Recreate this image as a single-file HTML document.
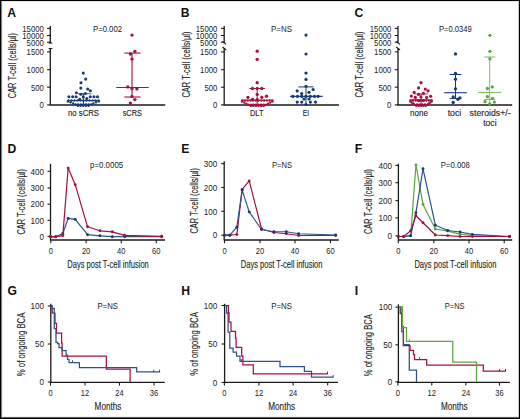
<!DOCTYPE html>
<html><head><meta charset="utf-8"><style>
html,body{margin:0;padding:0;background:#fff;}
svg{display:block;font-family:"Liberation Sans", sans-serif;}
</style></head><body>
<svg width="520" height="419" viewBox="0 0 520 419">
<rect x="0" y="0" width="520" height="419" fill="#fff"/>
<rect x="0" y="1" width="520" height="1" fill="#e4e4e4"/>
<rect x="0" y="416" width="520" height="1" fill="#f0f0f0"/>
<rect x="2" y="0" width="1" height="419" fill="#eeeeee"/>
<rect x="1" y="0" width="1" height="419" fill="#858585"/>
<rect x="518" y="0" width="1" height="419" fill="#c4c4c4"/>
<rect x="0" y="417" width="520" height="1" fill="#5a5a5a"/>
<rect x="0" y="0" width="520" height="1" fill="#000"/>
<rect x="0" y="0" width="1" height="419" fill="#000"/>
<rect x="519" y="0" width="1" height="419" fill="#000"/>
<rect x="0" y="418" width="520" height="1" fill="#000"/>
<text x="7.20" y="16.90" font-size="12.2" font-weight="bold" fill="#111" stroke="#111" stroke-width="0" text-anchor="start">A</text>
<line x1="50.30" y1="26.00" x2="50.30" y2="43.20" stroke="#1a1a1a" stroke-width="1.3"/>
<line x1="50.30" y1="48.30" x2="50.30" y2="105.30" stroke="#1a1a1a" stroke-width="1.3"/>
<line x1="48.70" y1="43.00" x2="52.30" y2="43.00" stroke="#1a1a1a" stroke-width="1.1"/>
<line x1="48.70" y1="48.50" x2="52.30" y2="48.50" stroke="#1a1a1a" stroke-width="1.1"/>
<line x1="47.10" y1="28.40" x2="50.30" y2="28.40" stroke="#1a1a1a" stroke-width="1.1"/>
<line x1="47.10" y1="35.50" x2="50.30" y2="35.50" stroke="#1a1a1a" stroke-width="1.1"/>
<line x1="47.10" y1="42.20" x2="50.30" y2="42.20" stroke="#1a1a1a" stroke-width="1.1"/>
<line x1="47.10" y1="51.90" x2="50.30" y2="51.90" stroke="#1a1a1a" stroke-width="1.1"/>
<line x1="47.10" y1="69.70" x2="50.30" y2="69.70" stroke="#1a1a1a" stroke-width="1.1"/>
<line x1="47.10" y1="87.20" x2="50.30" y2="87.20" stroke="#1a1a1a" stroke-width="1.1"/>
<line x1="47.10" y1="104.90" x2="50.30" y2="104.90" stroke="#1a1a1a" stroke-width="1.1"/>
<text x="22.30" y="32.00" font-size="9.3" fill="#222" stroke="#222" stroke-width="0" text-anchor="start" textLength="21.50" lengthAdjust="spacingAndGlyphs">15000</text>
<text x="22.30" y="38.80" font-size="9.3" fill="#222" stroke="#222" stroke-width="0" text-anchor="start" textLength="21.50" lengthAdjust="spacingAndGlyphs">10000</text>
<text x="26.60" y="45.70" font-size="9.3" fill="#222" stroke="#222" stroke-width="0" text-anchor="start" textLength="17.20" lengthAdjust="spacingAndGlyphs">5000</text>
<text x="26.60" y="55.30" font-size="9.3" fill="#222" stroke="#222" stroke-width="0" text-anchor="start" textLength="17.20" lengthAdjust="spacingAndGlyphs">1500</text>
<text x="26.60" y="73.10" font-size="9.3" fill="#222" stroke="#222" stroke-width="0" text-anchor="start" textLength="17.20" lengthAdjust="spacingAndGlyphs">1000</text>
<text x="30.90" y="90.60" font-size="9.3" fill="#222" stroke="#222" stroke-width="0" text-anchor="start" textLength="12.90" lengthAdjust="spacingAndGlyphs">500</text>
<text x="39.50" y="108.40" font-size="9.3" fill="#222" stroke="#222" stroke-width="0" text-anchor="start" textLength="4.30" lengthAdjust="spacingAndGlyphs">0</text>
<line x1="50.00" y1="105.00" x2="165.20" y2="105.00" stroke="#1a1a1a" stroke-width="1.4"/>
<text x="15.70" y="98.20" font-size="10.6" fill="#222" stroke="#222" stroke-width="0.12" text-anchor="start" textLength="65.20" lengthAdjust="spacingAndGlyphs" transform="rotate(-90 15.70 98.20)">CAR T-cell (cells/µl)</text>
<text x="93.00" y="31.70" font-size="8.4" fill="#222" stroke="#222" stroke-width="0" text-anchor="start" textLength="29.00" lengthAdjust="spacingAndGlyphs">P=0.002</text>
<text x="68.00" y="115.60" font-size="8.8" fill="#222" stroke="#222" stroke-width="0.12" text-anchor="start" textLength="31.00" lengthAdjust="spacingAndGlyphs">no sCRS</text>
<text x="122.70" y="115.60" font-size="8.8" fill="#222" stroke="#222" stroke-width="0.12" text-anchor="start" textLength="19.20" lengthAdjust="spacingAndGlyphs">sCRS</text>
<text x="180.70" y="17.10" font-size="12.2" font-weight="bold" fill="#111" stroke="#111" stroke-width="0" text-anchor="start">B</text>
<line x1="224.20" y1="26.00" x2="224.20" y2="43.20" stroke="#1a1a1a" stroke-width="1.3"/>
<line x1="224.20" y1="48.30" x2="224.20" y2="105.30" stroke="#1a1a1a" stroke-width="1.3"/>
<line x1="222.40" y1="41.40" x2="226.20" y2="44.40" stroke="#1a1a1a" stroke-width="1.2"/>
<line x1="222.40" y1="47.00" x2="226.20" y2="50.00" stroke="#1a1a1a" stroke-width="1.2"/>
<line x1="221.00" y1="28.40" x2="224.20" y2="28.40" stroke="#1a1a1a" stroke-width="1.1"/>
<line x1="221.00" y1="35.50" x2="224.20" y2="35.50" stroke="#1a1a1a" stroke-width="1.1"/>
<line x1="221.00" y1="42.20" x2="224.20" y2="42.20" stroke="#1a1a1a" stroke-width="1.1"/>
<line x1="221.00" y1="51.90" x2="224.20" y2="51.90" stroke="#1a1a1a" stroke-width="1.1"/>
<line x1="221.00" y1="69.70" x2="224.20" y2="69.70" stroke="#1a1a1a" stroke-width="1.1"/>
<line x1="221.00" y1="87.20" x2="224.20" y2="87.20" stroke="#1a1a1a" stroke-width="1.1"/>
<line x1="221.00" y1="104.90" x2="224.20" y2="104.90" stroke="#1a1a1a" stroke-width="1.1"/>
<text x="195.80" y="32.00" font-size="9.3" fill="#222" stroke="#222" stroke-width="0" text-anchor="start" textLength="21.50" lengthAdjust="spacingAndGlyphs">15000</text>
<text x="195.80" y="38.80" font-size="9.3" fill="#222" stroke="#222" stroke-width="0" text-anchor="start" textLength="21.50" lengthAdjust="spacingAndGlyphs">10000</text>
<text x="200.10" y="45.70" font-size="9.3" fill="#222" stroke="#222" stroke-width="0" text-anchor="start" textLength="17.20" lengthAdjust="spacingAndGlyphs">5000</text>
<text x="200.10" y="55.30" font-size="9.3" fill="#222" stroke="#222" stroke-width="0" text-anchor="start" textLength="17.20" lengthAdjust="spacingAndGlyphs">1500</text>
<text x="200.10" y="73.10" font-size="9.3" fill="#222" stroke="#222" stroke-width="0" text-anchor="start" textLength="17.20" lengthAdjust="spacingAndGlyphs">1000</text>
<text x="204.40" y="90.60" font-size="9.3" fill="#222" stroke="#222" stroke-width="0" text-anchor="start" textLength="12.90" lengthAdjust="spacingAndGlyphs">500</text>
<text x="213.00" y="108.40" font-size="9.3" fill="#222" stroke="#222" stroke-width="0" text-anchor="start" textLength="4.30" lengthAdjust="spacingAndGlyphs">0</text>
<line x1="223.60" y1="105.00" x2="338.90" y2="105.00" stroke="#1a1a1a" stroke-width="1.4"/>
<text x="189.60" y="97.60" font-size="10.6" fill="#222" stroke="#222" stroke-width="0.12" text-anchor="start" textLength="66.00" lengthAdjust="spacingAndGlyphs" transform="rotate(-90 189.60 97.60)">CAR T-cell (cells/µl)</text>
<text x="271.00" y="31.70" font-size="8.4" fill="#222" stroke="#222" stroke-width="0" text-anchor="start" textLength="21.00" lengthAdjust="spacingAndGlyphs">P=NS</text>
<text x="250.00" y="115.60" font-size="8.8" fill="#222" stroke="#222" stroke-width="0.12" text-anchor="start" textLength="13.40" lengthAdjust="spacingAndGlyphs">DLT</text>
<text x="302.70" y="115.60" font-size="8.8" fill="#222" stroke="#222" stroke-width="0.12" text-anchor="start" textLength="6.30" lengthAdjust="spacingAndGlyphs">EI</text>
<text x="354.60" y="17.00" font-size="12.2" font-weight="bold" fill="#111" stroke="#111" stroke-width="0" text-anchor="start">C</text>
<line x1="398.00" y1="26.00" x2="398.00" y2="43.20" stroke="#1a1a1a" stroke-width="1.3"/>
<line x1="398.00" y1="48.30" x2="398.00" y2="105.30" stroke="#1a1a1a" stroke-width="1.3"/>
<line x1="396.20" y1="41.40" x2="400.00" y2="44.40" stroke="#1a1a1a" stroke-width="1.2"/>
<line x1="396.20" y1="47.00" x2="400.00" y2="50.00" stroke="#1a1a1a" stroke-width="1.2"/>
<line x1="394.80" y1="28.40" x2="398.00" y2="28.40" stroke="#1a1a1a" stroke-width="1.1"/>
<line x1="394.80" y1="35.50" x2="398.00" y2="35.50" stroke="#1a1a1a" stroke-width="1.1"/>
<line x1="394.80" y1="42.20" x2="398.00" y2="42.20" stroke="#1a1a1a" stroke-width="1.1"/>
<line x1="394.80" y1="51.90" x2="398.00" y2="51.90" stroke="#1a1a1a" stroke-width="1.1"/>
<line x1="394.80" y1="69.70" x2="398.00" y2="69.70" stroke="#1a1a1a" stroke-width="1.1"/>
<line x1="394.80" y1="87.20" x2="398.00" y2="87.20" stroke="#1a1a1a" stroke-width="1.1"/>
<line x1="394.80" y1="104.90" x2="398.00" y2="104.90" stroke="#1a1a1a" stroke-width="1.1"/>
<text x="369.80" y="32.00" font-size="9.3" fill="#222" stroke="#222" stroke-width="0" text-anchor="start" textLength="21.50" lengthAdjust="spacingAndGlyphs">15000</text>
<text x="369.80" y="38.80" font-size="9.3" fill="#222" stroke="#222" stroke-width="0" text-anchor="start" textLength="21.50" lengthAdjust="spacingAndGlyphs">10000</text>
<text x="374.10" y="45.70" font-size="9.3" fill="#222" stroke="#222" stroke-width="0" text-anchor="start" textLength="17.20" lengthAdjust="spacingAndGlyphs">5000</text>
<text x="374.10" y="55.30" font-size="9.3" fill="#222" stroke="#222" stroke-width="0" text-anchor="start" textLength="17.20" lengthAdjust="spacingAndGlyphs">1500</text>
<text x="374.10" y="73.10" font-size="9.3" fill="#222" stroke="#222" stroke-width="0" text-anchor="start" textLength="17.20" lengthAdjust="spacingAndGlyphs">1000</text>
<text x="378.40" y="90.60" font-size="9.3" fill="#222" stroke="#222" stroke-width="0" text-anchor="start" textLength="12.90" lengthAdjust="spacingAndGlyphs">500</text>
<text x="387.00" y="108.40" font-size="9.3" fill="#222" stroke="#222" stroke-width="0" text-anchor="start" textLength="4.30" lengthAdjust="spacingAndGlyphs">0</text>
<line x1="397.50" y1="105.00" x2="512.20" y2="105.00" stroke="#1a1a1a" stroke-width="1.4"/>
<text x="363.10" y="97.60" font-size="10.6" fill="#222" stroke="#222" stroke-width="0.12" text-anchor="start" textLength="66.00" lengthAdjust="spacingAndGlyphs" transform="rotate(-90 363.10 97.60)">CAR T-cell (cells/µl)</text>
<text x="439.00" y="31.70" font-size="8.4" fill="#222" stroke="#222" stroke-width="0" text-anchor="start" textLength="32.80" lengthAdjust="spacingAndGlyphs">P=0.0349</text>
<text x="410.00" y="115.60" font-size="8.8" fill="#222" stroke="#222" stroke-width="0.12" text-anchor="start" textLength="18.00" lengthAdjust="spacingAndGlyphs">none</text>
<text x="447.70" y="115.60" font-size="8.8" fill="#222" stroke="#222" stroke-width="0.12" text-anchor="start" textLength="13.60" lengthAdjust="spacingAndGlyphs">toci</text>
<text x="469.60" y="115.60" font-size="8.8" fill="#222" stroke="#222" stroke-width="0.12" text-anchor="start" textLength="41.00" lengthAdjust="spacingAndGlyphs">steroids+/-</text>
<text x="483.20" y="126.00" font-size="8.8" fill="#222" stroke="#222" stroke-width="0.12" text-anchor="start" textLength="13.40" lengthAdjust="spacingAndGlyphs">toci</text>
<circle cx="83.30" cy="73.10" r="1.55" fill="#173a78"/>
<circle cx="85.70" cy="79.10" r="1.55" fill="#173a78"/>
<circle cx="81.00" cy="82.70" r="1.55" fill="#173a78"/>
<circle cx="80.80" cy="88.10" r="1.55" fill="#173a78"/>
<circle cx="87.70" cy="89.00" r="1.55" fill="#173a78"/>
<circle cx="90.30" cy="90.80" r="1.55" fill="#173a78"/>
<circle cx="76.40" cy="92.70" r="1.55" fill="#173a78"/>
<circle cx="80.80" cy="94.30" r="1.55" fill="#173a78"/>
<circle cx="85.40" cy="93.50" r="1.55" fill="#173a78"/>
<circle cx="68.90" cy="96.70" r="1.55" fill="#173a78"/>
<circle cx="72.70" cy="96.70" r="1.55" fill="#173a78"/>
<circle cx="76.10" cy="96.70" r="1.55" fill="#173a78"/>
<circle cx="90.30" cy="96.70" r="1.55" fill="#173a78"/>
<circle cx="94.00" cy="96.70" r="1.55" fill="#173a78"/>
<circle cx="97.50" cy="96.70" r="1.55" fill="#173a78"/>
<circle cx="79.70" cy="99.30" r="1.55" fill="#173a78"/>
<circle cx="86.80" cy="98.50" r="1.55" fill="#173a78"/>
<circle cx="83.30" cy="96.90" r="1.55" fill="#173a78"/>
<line x1="78.00" y1="93.70" x2="91.50" y2="93.70" stroke="#173a78" stroke-width="0.8"/>
<line x1="83.40" y1="93.70" x2="83.40" y2="105.00" stroke="#173a78" stroke-width="1"/>
<circle cx="68.50" cy="100.40" r="1.1" fill="#173a78"/>
<circle cx="71.50" cy="100.40" r="1.1" fill="#173a78"/>
<circle cx="74.50" cy="100.40" r="1.1" fill="#173a78"/>
<circle cx="77.50" cy="100.40" r="1.1" fill="#173a78"/>
<circle cx="80.50" cy="100.40" r="1.1" fill="#173a78"/>
<circle cx="83.50" cy="100.40" r="1.1" fill="#173a78"/>
<circle cx="86.50" cy="100.40" r="1.1" fill="#173a78"/>
<circle cx="89.50" cy="100.40" r="1.1" fill="#173a78"/>
<circle cx="92.50" cy="100.40" r="1.1" fill="#173a78"/>
<circle cx="95.50" cy="100.40" r="1.1" fill="#173a78"/>
<circle cx="98.50" cy="100.40" r="1.1" fill="#173a78"/>
<line x1="67.20" y1="100.60" x2="99.70" y2="100.60" stroke="#173a78" stroke-width="1.3"/>
<circle cx="67.80" cy="101.40" r="1.2" fill="#173a78"/>
<circle cx="98.80" cy="101.40" r="1.2" fill="#173a78"/>
<circle cx="70.60" cy="102.30" r="1.2" fill="#173a78"/>
<circle cx="96.00" cy="102.30" r="1.2" fill="#173a78"/>
<circle cx="73.20" cy="103.40" r="1.2" fill="#173a78"/>
<circle cx="93.40" cy="103.40" r="1.2" fill="#173a78"/>
<circle cx="75.60" cy="104.40" r="1.25" fill="#173a78"/>
<circle cx="78.20" cy="104.40" r="1.25" fill="#173a78"/>
<circle cx="80.80" cy="104.40" r="1.25" fill="#173a78"/>
<circle cx="83.40" cy="104.40" r="1.25" fill="#173a78"/>
<circle cx="86.00" cy="104.40" r="1.25" fill="#173a78"/>
<circle cx="88.60" cy="104.40" r="1.25" fill="#173a78"/>
<circle cx="91.20" cy="104.40" r="1.25" fill="#173a78"/>
<circle cx="78.00" cy="105.70" r="1.2" fill="#173a78"/>
<circle cx="80.65" cy="105.70" r="1.2" fill="#173a78"/>
<circle cx="83.30" cy="105.70" r="1.2" fill="#173a78"/>
<circle cx="85.95" cy="105.70" r="1.2" fill="#173a78"/>
<circle cx="88.60" cy="105.70" r="1.2" fill="#173a78"/>
<line x1="116.20" y1="87.50" x2="148.70" y2="87.50" stroke="#a8103a" stroke-width="1.1"/>
<line x1="124.30" y1="53.10" x2="140.60" y2="53.10" stroke="#a8103a" stroke-width="1.1"/>
<line x1="124.30" y1="97.00" x2="140.60" y2="97.00" stroke="#a8103a" stroke-width="1.1"/>
<line x1="132.00" y1="53.10" x2="132.00" y2="97.00" stroke="#a8103a" stroke-width="1.1"/>
<circle cx="132.00" cy="35.10" r="1.7" fill="#a8103a"/>
<circle cx="134.90" cy="51.40" r="1.7" fill="#a8103a"/>
<circle cx="130.40" cy="54.00" r="1.7" fill="#a8103a"/>
<circle cx="132.00" cy="59.10" r="1.7" fill="#a8103a"/>
<circle cx="127.80" cy="86.90" r="1.7" fill="#a8103a"/>
<circle cx="132.00" cy="88.50" r="1.7" fill="#a8103a"/>
<circle cx="136.90" cy="88.90" r="1.7" fill="#a8103a"/>
<circle cx="132.00" cy="96.40" r="1.7" fill="#a8103a"/>
<circle cx="134.90" cy="99.60" r="1.7" fill="#a8103a"/>
<circle cx="130.40" cy="103.10" r="1.7" fill="#a8103a"/>
<circle cx="257.20" cy="51.20" r="1.65" fill="#a8103a"/>
<circle cx="257.20" cy="59.30" r="1.65" fill="#a8103a"/>
<circle cx="257.20" cy="82.70" r="1.65" fill="#a8103a"/>
<circle cx="252.50" cy="88.50" r="1.65" fill="#a8103a"/>
<circle cx="257.20" cy="88.50" r="1.65" fill="#a8103a"/>
<circle cx="261.80" cy="88.50" r="1.65" fill="#a8103a"/>
<circle cx="257.20" cy="94.40" r="1.65" fill="#a8103a"/>
<circle cx="247.90" cy="97.30" r="1.65" fill="#a8103a"/>
<circle cx="252.50" cy="99.30" r="1.65" fill="#a8103a"/>
<circle cx="261.80" cy="97.30" r="1.65" fill="#a8103a"/>
<circle cx="266.50" cy="96.20" r="1.65" fill="#a8103a"/>
<circle cx="257.20" cy="99.70" r="1.65" fill="#a8103a"/>
<circle cx="242.20" cy="100.60" r="1.2" fill="#a8103a"/>
<circle cx="244.93" cy="100.60" r="1.2" fill="#a8103a"/>
<circle cx="247.65" cy="100.60" r="1.2" fill="#a8103a"/>
<circle cx="250.38" cy="100.60" r="1.2" fill="#a8103a"/>
<circle cx="253.11" cy="100.60" r="1.2" fill="#a8103a"/>
<circle cx="255.84" cy="100.60" r="1.2" fill="#a8103a"/>
<circle cx="258.56" cy="100.60" r="1.2" fill="#a8103a"/>
<circle cx="261.29" cy="100.60" r="1.2" fill="#a8103a"/>
<circle cx="264.02" cy="100.60" r="1.2" fill="#a8103a"/>
<circle cx="266.75" cy="100.60" r="1.2" fill="#a8103a"/>
<circle cx="269.47" cy="100.60" r="1.2" fill="#a8103a"/>
<circle cx="272.20" cy="100.60" r="1.2" fill="#a8103a"/>
<circle cx="242.00" cy="101.50" r="1.2" fill="#a8103a"/>
<circle cx="272.40" cy="101.50" r="1.2" fill="#a8103a"/>
<circle cx="244.20" cy="102.60" r="1.2" fill="#a8103a"/>
<circle cx="270.20" cy="102.60" r="1.2" fill="#a8103a"/>
<circle cx="246.20" cy="103.60" r="1.2" fill="#a8103a"/>
<circle cx="268.20" cy="103.60" r="1.2" fill="#a8103a"/>
<circle cx="248.20" cy="104.60" r="1.2" fill="#a8103a"/>
<circle cx="250.77" cy="104.60" r="1.2" fill="#a8103a"/>
<circle cx="253.34" cy="104.60" r="1.2" fill="#a8103a"/>
<circle cx="255.91" cy="104.60" r="1.2" fill="#a8103a"/>
<circle cx="258.49" cy="104.60" r="1.2" fill="#a8103a"/>
<circle cx="261.06" cy="104.60" r="1.2" fill="#a8103a"/>
<circle cx="263.63" cy="104.60" r="1.2" fill="#a8103a"/>
<circle cx="266.20" cy="104.60" r="1.2" fill="#a8103a"/>
<circle cx="250.70" cy="105.90" r="1.2" fill="#a8103a"/>
<circle cx="253.30" cy="105.90" r="1.2" fill="#a8103a"/>
<circle cx="255.90" cy="105.90" r="1.2" fill="#a8103a"/>
<circle cx="258.50" cy="105.90" r="1.2" fill="#a8103a"/>
<circle cx="261.10" cy="105.90" r="1.2" fill="#a8103a"/>
<circle cx="263.70" cy="105.90" r="1.2" fill="#a8103a"/>
<line x1="249.40" y1="88.50" x2="264.90" y2="88.50" stroke="#a8103a" stroke-width="1"/>
<line x1="241.00" y1="100.10" x2="273.50" y2="100.10" stroke="#a8103a" stroke-width="1"/>
<line x1="257.20" y1="88.50" x2="257.20" y2="104.00" stroke="#a8103a" stroke-width="1"/>
<circle cx="306.00" cy="35.10" r="1.6" fill="#173a78"/>
<circle cx="306.00" cy="54.00" r="1.6" fill="#173a78"/>
<circle cx="306.00" cy="73.10" r="1.6" fill="#173a78"/>
<circle cx="306.00" cy="79.40" r="1.6" fill="#173a78"/>
<circle cx="306.00" cy="86.30" r="1.6" fill="#173a78"/>
<circle cx="297.20" cy="90.90" r="1.6" fill="#173a78"/>
<circle cx="313.10" cy="89.50" r="1.6" fill="#173a78"/>
<circle cx="301.70" cy="93.60" r="1.6" fill="#173a78"/>
<circle cx="309.00" cy="92.30" r="1.6" fill="#173a78"/>
<circle cx="292.80" cy="96.40" r="1.6" fill="#173a78"/>
<circle cx="297.50" cy="96.40" r="1.6" fill="#173a78"/>
<circle cx="301.70" cy="96.40" r="1.6" fill="#173a78"/>
<circle cx="306.00" cy="96.40" r="1.6" fill="#173a78"/>
<circle cx="310.40" cy="96.40" r="1.6" fill="#173a78"/>
<circle cx="314.50" cy="96.40" r="1.6" fill="#173a78"/>
<circle cx="318.10" cy="96.40" r="1.6" fill="#173a78"/>
<circle cx="304.00" cy="99.00" r="1.6" fill="#173a78"/>
<circle cx="309.00" cy="99.00" r="1.6" fill="#173a78"/>
<circle cx="297.20" cy="102.10" r="1.6" fill="#173a78"/>
<circle cx="301.70" cy="102.10" r="1.6" fill="#173a78"/>
<circle cx="310.40" cy="102.10" r="1.6" fill="#173a78"/>
<circle cx="315.50" cy="102.10" r="1.6" fill="#173a78"/>
<circle cx="306.00" cy="104.50" r="1.6" fill="#173a78"/>
<line x1="298.30" y1="86.90" x2="313.50" y2="86.90" stroke="#173a78" stroke-width="1"/>
<line x1="290.10" y1="96.40" x2="322.60" y2="96.40" stroke="#173a78" stroke-width="1.1"/>
<line x1="306.00" y1="86.90" x2="306.00" y2="104.00" stroke="#173a78" stroke-width="1"/>
<circle cx="421.00" cy="82.70" r="1.6" fill="#a8103a"/>
<circle cx="418.60" cy="87.90" r="1.6" fill="#a8103a"/>
<circle cx="425.30" cy="89.10" r="1.6" fill="#a8103a"/>
<circle cx="428.00" cy="90.80" r="1.6" fill="#a8103a"/>
<circle cx="414.10" cy="92.40" r="1.6" fill="#a8103a"/>
<circle cx="418.60" cy="94.40" r="1.6" fill="#a8103a"/>
<circle cx="423.40" cy="93.40" r="1.6" fill="#a8103a"/>
<circle cx="411.30" cy="96.10" r="1.6" fill="#a8103a"/>
<circle cx="415.30" cy="97.40" r="1.6" fill="#a8103a"/>
<circle cx="426.70" cy="97.40" r="1.6" fill="#a8103a"/>
<circle cx="430.60" cy="96.30" r="1.6" fill="#a8103a"/>
<circle cx="421.00" cy="97.00" r="1.6" fill="#a8103a"/>
<circle cx="418.60" cy="100.60" r="1.6" fill="#a8103a"/>
<circle cx="423.40" cy="100.60" r="1.6" fill="#a8103a"/>
<circle cx="410.50" cy="100.50" r="1.2" fill="#a8103a"/>
<circle cx="413.12" cy="100.50" r="1.2" fill="#a8103a"/>
<circle cx="415.75" cy="100.50" r="1.2" fill="#a8103a"/>
<circle cx="418.38" cy="100.50" r="1.2" fill="#a8103a"/>
<circle cx="421.00" cy="100.50" r="1.2" fill="#a8103a"/>
<circle cx="423.62" cy="100.50" r="1.2" fill="#a8103a"/>
<circle cx="426.25" cy="100.50" r="1.2" fill="#a8103a"/>
<circle cx="428.88" cy="100.50" r="1.2" fill="#a8103a"/>
<circle cx="431.50" cy="100.50" r="1.2" fill="#a8103a"/>
<circle cx="410.30" cy="101.40" r="1.2" fill="#a8103a"/>
<circle cx="431.70" cy="101.40" r="1.2" fill="#a8103a"/>
<circle cx="411.66" cy="102.50" r="1.2" fill="#a8103a"/>
<circle cx="430.34" cy="102.50" r="1.2" fill="#a8103a"/>
<circle cx="413.09" cy="103.50" r="1.2" fill="#a8103a"/>
<circle cx="428.91" cy="103.50" r="1.2" fill="#a8103a"/>
<circle cx="414.53" cy="104.50" r="1.2" fill="#a8103a"/>
<circle cx="417.12" cy="104.50" r="1.2" fill="#a8103a"/>
<circle cx="419.71" cy="104.50" r="1.2" fill="#a8103a"/>
<circle cx="422.29" cy="104.50" r="1.2" fill="#a8103a"/>
<circle cx="424.88" cy="104.50" r="1.2" fill="#a8103a"/>
<circle cx="427.47" cy="104.50" r="1.2" fill="#a8103a"/>
<circle cx="416.33" cy="105.80" r="1.2" fill="#a8103a"/>
<circle cx="418.66" cy="105.80" r="1.2" fill="#a8103a"/>
<circle cx="421.00" cy="105.80" r="1.2" fill="#a8103a"/>
<circle cx="423.34" cy="105.80" r="1.2" fill="#a8103a"/>
<circle cx="425.67" cy="105.80" r="1.2" fill="#a8103a"/>
<line x1="409.60" y1="99.90" x2="432.50" y2="99.90" stroke="#a8103a" stroke-width="1"/>
<line x1="414.00" y1="93.90" x2="428.00" y2="93.90" stroke="#a8103a" stroke-width="0.8"/>
<line x1="421.00" y1="93.90" x2="421.00" y2="104.50" stroke="#a8103a" stroke-width="1"/>
<line x1="449.60" y1="74.50" x2="461.30" y2="74.50" stroke="#173a78" stroke-width="1"/>
<line x1="444.20" y1="92.70" x2="466.90" y2="92.70" stroke="#173a78" stroke-width="1.1"/>
<line x1="449.60" y1="98.60" x2="461.30" y2="98.60" stroke="#173a78" stroke-width="1"/>
<line x1="455.50" y1="74.50" x2="455.50" y2="98.60" stroke="#173a78" stroke-width="1"/>
<circle cx="455.50" cy="53.90" r="1.65" fill="#173a78"/>
<circle cx="455.50" cy="73.30" r="1.65" fill="#173a78"/>
<circle cx="455.50" cy="79.20" r="1.65" fill="#173a78"/>
<circle cx="455.50" cy="88.80" r="1.65" fill="#173a78"/>
<circle cx="453.20" cy="97.00" r="1.65" fill="#173a78"/>
<circle cx="459.90" cy="97.80" r="1.65" fill="#173a78"/>
<circle cx="457.90" cy="99.30" r="1.65" fill="#173a78"/>
<circle cx="453.20" cy="102.50" r="1.65" fill="#173a78"/>
<line x1="484.30" y1="57.00" x2="495.40" y2="57.00" stroke="#7cbf5a" stroke-width="1"/>
<line x1="478.00" y1="92.40" x2="501.30" y2="92.40" stroke="#7cbf5a" stroke-width="1.1"/>
<line x1="484.30" y1="99.50" x2="495.40" y2="99.50" stroke="#7cbf5a" stroke-width="1"/>
<line x1="489.70" y1="57.00" x2="489.70" y2="103.00" stroke="#7cbf5a" stroke-width="1"/>
<circle cx="489.90" cy="35.30" r="1.65" fill="#58a83a"/>
<circle cx="489.90" cy="51.30" r="1.65" fill="#58a83a"/>
<circle cx="489.90" cy="58.80" r="1.65" fill="#58a83a"/>
<circle cx="487.40" cy="88.50" r="1.65" fill="#58a83a"/>
<circle cx="492.30" cy="86.90" r="1.65" fill="#58a83a"/>
<circle cx="487.40" cy="96.70" r="1.65" fill="#58a83a"/>
<circle cx="492.50" cy="98.30" r="1.65" fill="#58a83a"/>
<circle cx="485.00" cy="101.70" r="1.65" fill="#58a83a"/>
<circle cx="494.30" cy="102.10" r="1.65" fill="#58a83a"/>
<circle cx="489.70" cy="104.00" r="1.65" fill="#58a83a"/>
<text x="7.60" y="152.80" font-size="12.2" font-weight="bold" fill="#111" stroke="#111" stroke-width="0" text-anchor="start">D</text>
<line x1="50.50" y1="163.80" x2="50.50" y2="240.60" stroke="#1a1a1a" stroke-width="1.3"/>
<line x1="47.50" y1="171.30" x2="50.50" y2="171.30" stroke="#1a1a1a" stroke-width="1.1"/>
<text x="30.50" y="174.50" font-size="9.1" fill="#222" stroke="#222" stroke-width="0" text-anchor="start" textLength="13.50" lengthAdjust="spacingAndGlyphs">400</text>
<line x1="47.50" y1="188.00" x2="50.50" y2="188.00" stroke="#1a1a1a" stroke-width="1.1"/>
<text x="30.50" y="191.20" font-size="9.1" fill="#222" stroke="#222" stroke-width="0" text-anchor="start" textLength="13.50" lengthAdjust="spacingAndGlyphs">300</text>
<line x1="47.50" y1="204.20" x2="50.50" y2="204.20" stroke="#1a1a1a" stroke-width="1.1"/>
<text x="30.50" y="207.40" font-size="9.1" fill="#222" stroke="#222" stroke-width="0" text-anchor="start" textLength="13.50" lengthAdjust="spacingAndGlyphs">200</text>
<line x1="47.50" y1="220.30" x2="50.50" y2="220.30" stroke="#1a1a1a" stroke-width="1.1"/>
<text x="30.50" y="223.50" font-size="9.1" fill="#222" stroke="#222" stroke-width="0" text-anchor="start" textLength="13.50" lengthAdjust="spacingAndGlyphs">100</text>
<line x1="47.50" y1="236.40" x2="50.50" y2="236.40" stroke="#1a1a1a" stroke-width="1.1"/>
<text x="39.50" y="239.60" font-size="9.1" fill="#222" stroke="#222" stroke-width="0" text-anchor="start" textLength="4.50" lengthAdjust="spacingAndGlyphs">0</text>
<line x1="50.50" y1="240.00" x2="165.00" y2="240.00" stroke="#1a1a1a" stroke-width="1.3"/>
<line x1="50.80" y1="240.00" x2="50.80" y2="243.20" stroke="#1a1a1a" stroke-width="1.1"/>
<text x="48.70" y="253.70" font-size="9.1" fill="#222" stroke="#222" stroke-width="0" text-anchor="start" textLength="4.20" lengthAdjust="spacingAndGlyphs">0</text>
<line x1="86.10" y1="240.00" x2="86.10" y2="243.20" stroke="#1a1a1a" stroke-width="1.1"/>
<text x="81.90" y="253.70" font-size="9.1" fill="#222" stroke="#222" stroke-width="0" text-anchor="start" textLength="8.40" lengthAdjust="spacingAndGlyphs">20</text>
<line x1="121.20" y1="240.00" x2="121.20" y2="243.20" stroke="#1a1a1a" stroke-width="1.1"/>
<text x="117.00" y="253.70" font-size="9.1" fill="#222" stroke="#222" stroke-width="0" text-anchor="start" textLength="8.40" lengthAdjust="spacingAndGlyphs">40</text>
<line x1="156.30" y1="240.00" x2="156.30" y2="243.20" stroke="#1a1a1a" stroke-width="1.1"/>
<text x="152.10" y="253.70" font-size="9.1" fill="#222" stroke="#222" stroke-width="0" text-anchor="start" textLength="8.40" lengthAdjust="spacingAndGlyphs">60</text>
<text x="24.60" y="234.60" font-size="10.6" fill="#222" stroke="#222" stroke-width="0.12" text-anchor="start" textLength="65.50" lengthAdjust="spacingAndGlyphs" transform="rotate(-90 24.60 234.60)">CAR T-cell (cells/µl)</text>
<text x="90.00" y="167.70" font-size="8.4" fill="#222" stroke="#222" stroke-width="0" text-anchor="start" textLength="33.20" lengthAdjust="spacingAndGlyphs">p=0.0005</text>
<text x="67.30" y="267.50" font-size="10.8" fill="#222" stroke="#222" stroke-width="0.12" text-anchor="start" textLength="81.50" lengthAdjust="spacingAndGlyphs">Days post T-cell infusion</text>
<polyline points="50.50,236.80 55.80,236.80 62.85,233.50 68.15,218.40 75.21,219.40 87.56,234.70 99.92,235.80 112.28,236.70 124.63,236.70 161.69,236.70" fill="none" stroke="#2f5190" stroke-width="1.2" stroke-linejoin="round"/>
<circle cx="50.50" cy="236.80" r="1.45" fill="#173a78"/>
<circle cx="55.80" cy="236.80" r="1.45" fill="#173a78"/>
<circle cx="62.85" cy="233.50" r="1.45" fill="#173a78"/>
<circle cx="68.15" cy="218.40" r="1.45" fill="#173a78"/>
<circle cx="75.21" cy="219.40" r="1.45" fill="#173a78"/>
<circle cx="87.56" cy="234.70" r="1.45" fill="#173a78"/>
<circle cx="99.92" cy="235.80" r="1.45" fill="#173a78"/>
<circle cx="112.28" cy="236.70" r="1.45" fill="#173a78"/>
<circle cx="124.63" cy="236.70" r="1.45" fill="#173a78"/>
<circle cx="161.69" cy="236.70" r="1.45" fill="#173a78"/>
<polyline points="50.50,236.60 55.80,236.60 62.85,235.60 68.15,168.10 75.21,184.70 87.56,226.80 99.92,230.80 112.28,231.80 124.63,235.30 161.69,236.30" fill="none" stroke="#a8103a" stroke-width="1.2" stroke-linejoin="round"/>
<circle cx="50.50" cy="236.60" r="1.45" fill="#a8103a"/>
<circle cx="55.80" cy="236.60" r="1.45" fill="#a8103a"/>
<circle cx="62.85" cy="235.60" r="1.45" fill="#a8103a"/>
<circle cx="68.15" cy="168.10" r="1.45" fill="#a8103a"/>
<circle cx="75.21" cy="184.70" r="1.45" fill="#a8103a"/>
<circle cx="87.56" cy="226.80" r="1.45" fill="#a8103a"/>
<circle cx="99.92" cy="230.80" r="1.45" fill="#a8103a"/>
<circle cx="112.28" cy="231.80" r="1.45" fill="#a8103a"/>
<circle cx="124.63" cy="235.30" r="1.45" fill="#a8103a"/>
<circle cx="161.69" cy="236.30" r="1.45" fill="#a8103a"/>
<text x="181.20" y="153.20" font-size="12.2" font-weight="bold" fill="#111" stroke="#111" stroke-width="0" text-anchor="start">E</text>
<line x1="224.20" y1="161.30" x2="224.20" y2="240.60" stroke="#1a1a1a" stroke-width="1.3"/>
<line x1="221.20" y1="163.60" x2="224.20" y2="163.60" stroke="#1a1a1a" stroke-width="1.1"/>
<text x="203.80" y="166.80" font-size="9.1" fill="#222" stroke="#222" stroke-width="0" text-anchor="start" textLength="13.50" lengthAdjust="spacingAndGlyphs">300</text>
<line x1="221.20" y1="187.50" x2="224.20" y2="187.50" stroke="#1a1a1a" stroke-width="1.1"/>
<text x="203.80" y="190.70" font-size="9.1" fill="#222" stroke="#222" stroke-width="0" text-anchor="start" textLength="13.50" lengthAdjust="spacingAndGlyphs">200</text>
<line x1="221.20" y1="211.30" x2="224.20" y2="211.30" stroke="#1a1a1a" stroke-width="1.1"/>
<text x="203.80" y="214.50" font-size="9.1" fill="#222" stroke="#222" stroke-width="0" text-anchor="start" textLength="13.50" lengthAdjust="spacingAndGlyphs">100</text>
<line x1="221.20" y1="235.20" x2="224.20" y2="235.20" stroke="#1a1a1a" stroke-width="1.1"/>
<text x="212.80" y="238.40" font-size="9.1" fill="#222" stroke="#222" stroke-width="0" text-anchor="start" textLength="4.50" lengthAdjust="spacingAndGlyphs">0</text>
<line x1="224.20" y1="240.00" x2="338.80" y2="240.00" stroke="#1a1a1a" stroke-width="1.3"/>
<line x1="224.50" y1="240.00" x2="224.50" y2="243.20" stroke="#1a1a1a" stroke-width="1.1"/>
<text x="222.40" y="253.70" font-size="9.1" fill="#222" stroke="#222" stroke-width="0" text-anchor="start" textLength="4.20" lengthAdjust="spacingAndGlyphs">0</text>
<line x1="260.00" y1="240.00" x2="260.00" y2="243.20" stroke="#1a1a1a" stroke-width="1.1"/>
<text x="255.80" y="253.70" font-size="9.1" fill="#222" stroke="#222" stroke-width="0" text-anchor="start" textLength="8.40" lengthAdjust="spacingAndGlyphs">20</text>
<line x1="295.00" y1="240.00" x2="295.00" y2="243.20" stroke="#1a1a1a" stroke-width="1.1"/>
<text x="290.80" y="253.70" font-size="9.1" fill="#222" stroke="#222" stroke-width="0" text-anchor="start" textLength="8.40" lengthAdjust="spacingAndGlyphs">40</text>
<line x1="330.50" y1="240.00" x2="330.50" y2="243.20" stroke="#1a1a1a" stroke-width="1.1"/>
<text x="326.30" y="253.70" font-size="9.1" fill="#222" stroke="#222" stroke-width="0" text-anchor="start" textLength="8.40" lengthAdjust="spacingAndGlyphs">60</text>
<text x="197.70" y="233.60" font-size="10.6" fill="#222" stroke="#222" stroke-width="0.12" text-anchor="start" textLength="65.50" lengthAdjust="spacingAndGlyphs" transform="rotate(-90 197.70 233.60)">CAR T-cell (cells/µl)</text>
<text x="272.00" y="167.80" font-size="8.4" fill="#222" stroke="#222" stroke-width="0" text-anchor="start" textLength="20.00" lengthAdjust="spacingAndGlyphs">P=NS</text>
<text x="240.80" y="267.50" font-size="10.8" fill="#222" stroke="#222" stroke-width="0.12" text-anchor="start" textLength="81.70" lengthAdjust="spacingAndGlyphs">Days post T-cell infusion</text>
<polyline points="224.50,235.20 229.79,235.20 236.85,234.50 242.15,189.40 249.21,180.90 261.56,229.00 273.92,232.50 286.27,233.75 298.63,235.50 335.69,235.50" fill="none" stroke="#a8103a" stroke-width="1.2" stroke-linejoin="round"/>
<circle cx="224.50" cy="235.20" r="1.45" fill="#a8103a"/>
<circle cx="229.79" cy="235.20" r="1.45" fill="#a8103a"/>
<circle cx="236.85" cy="234.50" r="1.45" fill="#a8103a"/>
<circle cx="242.15" cy="189.40" r="1.45" fill="#a8103a"/>
<circle cx="249.21" cy="180.90" r="1.45" fill="#a8103a"/>
<circle cx="261.56" cy="229.00" r="1.45" fill="#a8103a"/>
<circle cx="273.92" cy="232.50" r="1.45" fill="#a8103a"/>
<circle cx="286.27" cy="233.75" r="1.45" fill="#a8103a"/>
<circle cx="298.63" cy="235.50" r="1.45" fill="#a8103a"/>
<circle cx="335.69" cy="235.50" r="1.45" fill="#a8103a"/>
<polyline points="224.50,235.20 229.79,235.20 236.85,227.20 242.15,190.10 249.21,211.90 261.56,229.50 273.92,231.75 286.27,231.75 298.63,233.75 335.69,235.00" fill="none" stroke="#2f5190" stroke-width="1.2" stroke-linejoin="round"/>
<circle cx="224.50" cy="235.20" r="1.45" fill="#173a78"/>
<circle cx="229.79" cy="235.20" r="1.45" fill="#173a78"/>
<circle cx="236.85" cy="227.20" r="1.45" fill="#173a78"/>
<circle cx="242.15" cy="190.10" r="1.45" fill="#173a78"/>
<circle cx="249.21" cy="211.90" r="1.45" fill="#173a78"/>
<circle cx="261.56" cy="229.50" r="1.45" fill="#173a78"/>
<circle cx="273.92" cy="231.75" r="1.45" fill="#173a78"/>
<circle cx="286.27" cy="231.75" r="1.45" fill="#173a78"/>
<circle cx="298.63" cy="233.75" r="1.45" fill="#173a78"/>
<circle cx="335.69" cy="235.00" r="1.45" fill="#173a78"/>
<text x="354.70" y="153.00" font-size="12.2" font-weight="bold" fill="#111" stroke="#111" stroke-width="0" text-anchor="start">F</text>
<line x1="398.40" y1="163.80" x2="398.40" y2="240.60" stroke="#1a1a1a" stroke-width="1.3"/>
<line x1="395.40" y1="165.40" x2="398.40" y2="165.40" stroke="#1a1a1a" stroke-width="1.1"/>
<text x="378.60" y="168.60" font-size="9.1" fill="#222" stroke="#222" stroke-width="0" text-anchor="start" textLength="13.50" lengthAdjust="spacingAndGlyphs">400</text>
<line x1="395.40" y1="182.70" x2="398.40" y2="182.70" stroke="#1a1a1a" stroke-width="1.1"/>
<text x="378.60" y="185.90" font-size="9.1" fill="#222" stroke="#222" stroke-width="0" text-anchor="start" textLength="13.50" lengthAdjust="spacingAndGlyphs">300</text>
<line x1="395.40" y1="200.60" x2="398.40" y2="200.60" stroke="#1a1a1a" stroke-width="1.1"/>
<text x="378.60" y="203.80" font-size="9.1" fill="#222" stroke="#222" stroke-width="0" text-anchor="start" textLength="13.50" lengthAdjust="spacingAndGlyphs">200</text>
<line x1="395.40" y1="217.90" x2="398.40" y2="217.90" stroke="#1a1a1a" stroke-width="1.1"/>
<text x="378.60" y="221.10" font-size="9.1" fill="#222" stroke="#222" stroke-width="0" text-anchor="start" textLength="13.50" lengthAdjust="spacingAndGlyphs">100</text>
<line x1="395.40" y1="235.80" x2="398.40" y2="235.80" stroke="#1a1a1a" stroke-width="1.1"/>
<text x="387.60" y="239.00" font-size="9.1" fill="#222" stroke="#222" stroke-width="0" text-anchor="start" textLength="4.50" lengthAdjust="spacingAndGlyphs">0</text>
<line x1="398.30" y1="240.00" x2="512.20" y2="240.00" stroke="#1a1a1a" stroke-width="1.3"/>
<line x1="398.30" y1="240.00" x2="398.30" y2="243.20" stroke="#1a1a1a" stroke-width="1.1"/>
<text x="396.20" y="253.70" font-size="9.1" fill="#222" stroke="#222" stroke-width="0" text-anchor="start" textLength="4.20" lengthAdjust="spacingAndGlyphs">0</text>
<line x1="433.80" y1="240.00" x2="433.80" y2="243.20" stroke="#1a1a1a" stroke-width="1.1"/>
<text x="429.60" y="253.70" font-size="9.1" fill="#222" stroke="#222" stroke-width="0" text-anchor="start" textLength="8.40" lengthAdjust="spacingAndGlyphs">20</text>
<line x1="469.00" y1="240.00" x2="469.00" y2="243.20" stroke="#1a1a1a" stroke-width="1.1"/>
<text x="464.80" y="253.70" font-size="9.1" fill="#222" stroke="#222" stroke-width="0" text-anchor="start" textLength="8.40" lengthAdjust="spacingAndGlyphs">40</text>
<line x1="504.20" y1="240.00" x2="504.20" y2="243.20" stroke="#1a1a1a" stroke-width="1.1"/>
<text x="500.00" y="253.70" font-size="9.1" fill="#222" stroke="#222" stroke-width="0" text-anchor="start" textLength="8.40" lengthAdjust="spacingAndGlyphs">60</text>
<text x="371.60" y="234.00" font-size="10.6" fill="#222" stroke="#222" stroke-width="0.12" text-anchor="start" textLength="65.00" lengthAdjust="spacingAndGlyphs" transform="rotate(-90 371.60 234.00)">CAR T-cell (cells/µl)</text>
<text x="440.70" y="167.60" font-size="8.4" fill="#222" stroke="#222" stroke-width="0" text-anchor="start" textLength="29.20" lengthAdjust="spacingAndGlyphs">P=0.008</text>
<text x="414.40" y="267.50" font-size="10.8" fill="#222" stroke="#222" stroke-width="0.12" text-anchor="start" textLength="82.00" lengthAdjust="spacingAndGlyphs">Days post T-cell infusion</text>
<polyline points="398.30,236.50 403.60,236.50 410.66,235.70 415.95,165.00 423.01,204.40 435.37,229.00 447.72,231.10 460.07,234.10 472.43,235.60 509.50,236.50" fill="none" stroke="#58a83a" stroke-width="1.2" stroke-linejoin="round"/>
<circle cx="398.30" cy="236.50" r="1.45" fill="#58a83a"/>
<circle cx="403.60" cy="236.50" r="1.45" fill="#58a83a"/>
<circle cx="410.66" cy="235.70" r="1.45" fill="#58a83a"/>
<circle cx="415.95" cy="165.00" r="1.45" fill="#58a83a"/>
<circle cx="423.01" cy="204.40" r="1.45" fill="#58a83a"/>
<circle cx="435.37" cy="229.00" r="1.45" fill="#58a83a"/>
<circle cx="447.72" cy="231.10" r="1.45" fill="#58a83a"/>
<circle cx="460.07" cy="234.10" r="1.45" fill="#58a83a"/>
<circle cx="472.43" cy="235.60" r="1.45" fill="#58a83a"/>
<circle cx="509.50" cy="236.50" r="1.45" fill="#58a83a"/>
<polyline points="398.30,236.50 403.60,236.50 410.66,235.70 415.95,212.70 423.01,168.80 435.37,225.20 447.72,230.50 460.07,232.00 472.43,234.40 509.50,236.50" fill="none" stroke="#2f5190" stroke-width="1.2" stroke-linejoin="round"/>
<circle cx="398.30" cy="236.50" r="1.45" fill="#173a78"/>
<circle cx="403.60" cy="236.50" r="1.45" fill="#173a78"/>
<circle cx="410.66" cy="235.70" r="1.45" fill="#173a78"/>
<circle cx="415.95" cy="212.70" r="1.45" fill="#173a78"/>
<circle cx="423.01" cy="168.80" r="1.45" fill="#173a78"/>
<circle cx="435.37" cy="225.20" r="1.45" fill="#173a78"/>
<circle cx="447.72" cy="230.50" r="1.45" fill="#173a78"/>
<circle cx="460.07" cy="232.00" r="1.45" fill="#173a78"/>
<circle cx="472.43" cy="234.40" r="1.45" fill="#173a78"/>
<circle cx="509.50" cy="236.50" r="1.45" fill="#173a78"/>
<polyline points="398.30,236.50 403.60,236.50 410.66,230.70 415.95,215.70 423.01,222.70 435.37,235.00 447.72,235.60 460.07,236.50 472.43,236.50 509.50,236.50" fill="none" stroke="#a8103a" stroke-width="1.2" stroke-linejoin="round"/>
<circle cx="398.30" cy="236.50" r="1.45" fill="#a8103a"/>
<circle cx="403.60" cy="236.50" r="1.45" fill="#a8103a"/>
<circle cx="410.66" cy="230.70" r="1.45" fill="#a8103a"/>
<circle cx="415.95" cy="215.70" r="1.45" fill="#a8103a"/>
<circle cx="423.01" cy="222.70" r="1.45" fill="#a8103a"/>
<circle cx="435.37" cy="235.00" r="1.45" fill="#a8103a"/>
<circle cx="447.72" cy="235.60" r="1.45" fill="#a8103a"/>
<circle cx="460.07" cy="236.50" r="1.45" fill="#a8103a"/>
<circle cx="472.43" cy="236.50" r="1.45" fill="#a8103a"/>
<circle cx="509.50" cy="236.50" r="1.45" fill="#a8103a"/>
<text x="7.50" y="295.40" font-size="12.2" font-weight="bold" fill="#111" stroke="#111" stroke-width="0" text-anchor="start">G</text>
<line x1="50.80" y1="303.80" x2="50.80" y2="383.00" stroke="#1a1a1a" stroke-width="1.3"/>
<line x1="47.80" y1="306.00" x2="50.80" y2="306.00" stroke="#1a1a1a" stroke-width="1.1"/>
<text x="30.50" y="309.20" font-size="9.1" fill="#222" stroke="#222" stroke-width="0" text-anchor="start" textLength="13.50" lengthAdjust="spacingAndGlyphs">100</text>
<line x1="47.80" y1="344.00" x2="50.80" y2="344.00" stroke="#1a1a1a" stroke-width="1.1"/>
<text x="35.00" y="347.20" font-size="9.1" fill="#222" stroke="#222" stroke-width="0" text-anchor="start" textLength="9.00" lengthAdjust="spacingAndGlyphs">50</text>
<line x1="47.80" y1="382.00" x2="50.80" y2="382.00" stroke="#1a1a1a" stroke-width="1.1"/>
<text x="39.50" y="385.20" font-size="9.1" fill="#222" stroke="#222" stroke-width="0" text-anchor="start" textLength="4.50" lengthAdjust="spacingAndGlyphs">0</text>
<line x1="50.20" y1="382.40" x2="164.80" y2="382.40" stroke="#1a1a1a" stroke-width="1.3"/>
<line x1="50.50" y1="382.40" x2="50.50" y2="385.60" stroke="#1a1a1a" stroke-width="1.1"/>
<text x="48.40" y="396.10" font-size="9.1" fill="#222" stroke="#222" stroke-width="0" text-anchor="start" textLength="4.20" lengthAdjust="spacingAndGlyphs">0</text>
<line x1="85.00" y1="382.40" x2="85.00" y2="385.60" stroke="#1a1a1a" stroke-width="1.1"/>
<text x="80.80" y="396.10" font-size="9.1" fill="#222" stroke="#222" stroke-width="0" text-anchor="start" textLength="8.40" lengthAdjust="spacingAndGlyphs">12</text>
<line x1="119.50" y1="382.40" x2="119.50" y2="385.60" stroke="#1a1a1a" stroke-width="1.1"/>
<text x="115.30" y="396.10" font-size="9.1" fill="#222" stroke="#222" stroke-width="0" text-anchor="start" textLength="8.40" lengthAdjust="spacingAndGlyphs">24</text>
<line x1="154.00" y1="382.40" x2="154.00" y2="385.60" stroke="#1a1a1a" stroke-width="1.1"/>
<text x="149.80" y="396.10" font-size="9.1" fill="#222" stroke="#222" stroke-width="0" text-anchor="start" textLength="8.40" lengthAdjust="spacingAndGlyphs">36</text>
<text x="24.70" y="376.20" font-size="10.6" fill="#222" stroke="#222" stroke-width="0.12" text-anchor="start" textLength="63.60" lengthAdjust="spacingAndGlyphs" transform="rotate(-90 24.70 376.20)">% of ongoing BCA</text>
<text x="97.40" y="309.20" font-size="8.4" fill="#222" stroke="#222" stroke-width="0" text-anchor="start" textLength="20.60" lengthAdjust="spacingAndGlyphs">P=NS</text>
<text x="94.60" y="409.80" font-size="10.8" fill="#222" stroke="#222" stroke-width="0.12" text-anchor="start" textLength="26.80" lengthAdjust="spacingAndGlyphs">Months</text>
<polyline points="50.80,305.90 52.30,305.90 52.30,313.10 55.00,313.10 55.00,323.30 56.50,323.30 56.50,333.00 61.60,333.00 61.60,343.00 62.10,343.00 62.10,356.10 106.30,356.10 106.30,369.00 130.10,369.00 130.10,382.00" fill="none" stroke="#a8103a" stroke-width="1.25" stroke-linejoin="miter"/>
<polyline points="50.80,305.90 52.10,305.90 52.10,308.40 54.30,308.40 54.30,328.70 56.00,328.70 56.00,342.40 57.50,342.40 57.50,343.60 59.00,343.60 59.00,347.50 62.20,347.50 62.20,350.70 66.10,350.70 66.10,355.00 67.50,355.00 67.50,359.30 69.00,359.30 69.00,362.50 79.40,362.50 79.40,367.50 136.70,367.50 136.70,371.90 159.60,371.90 159.60,371.90" fill="none" stroke="#2f5190" stroke-width="1.25" stroke-linejoin="miter"/>
<line x1="72.50" y1="360.30" x2="72.50" y2="363.00" stroke="#2f5190" stroke-width="1.0"/>
<line x1="153.70" y1="369.70" x2="153.70" y2="372.40" stroke="#2f5190" stroke-width="1.0"/>
<line x1="159.60" y1="369.70" x2="159.60" y2="372.40" stroke="#2f5190" stroke-width="1.0"/>
<text x="181.20" y="295.40" font-size="12.2" font-weight="bold" fill="#111" stroke="#111" stroke-width="0" text-anchor="start">H</text>
<line x1="224.60" y1="303.80" x2="224.60" y2="383.00" stroke="#1a1a1a" stroke-width="1.3"/>
<line x1="221.60" y1="305.50" x2="224.60" y2="305.50" stroke="#1a1a1a" stroke-width="1.1"/>
<text x="203.70" y="308.70" font-size="9.1" fill="#222" stroke="#222" stroke-width="0" text-anchor="start" textLength="13.50" lengthAdjust="spacingAndGlyphs">100</text>
<line x1="221.60" y1="344.00" x2="224.60" y2="344.00" stroke="#1a1a1a" stroke-width="1.1"/>
<text x="208.20" y="347.20" font-size="9.1" fill="#222" stroke="#222" stroke-width="0" text-anchor="start" textLength="9.00" lengthAdjust="spacingAndGlyphs">50</text>
<line x1="221.60" y1="382.40" x2="224.60" y2="382.40" stroke="#1a1a1a" stroke-width="1.1"/>
<text x="212.70" y="385.60" font-size="9.1" fill="#222" stroke="#222" stroke-width="0" text-anchor="start" textLength="4.50" lengthAdjust="spacingAndGlyphs">0</text>
<line x1="223.90" y1="382.40" x2="337.90" y2="382.40" stroke="#1a1a1a" stroke-width="1.3"/>
<line x1="224.40" y1="382.40" x2="224.40" y2="385.60" stroke="#1a1a1a" stroke-width="1.1"/>
<text x="222.30" y="396.10" font-size="9.1" fill="#222" stroke="#222" stroke-width="0" text-anchor="start" textLength="4.20" lengthAdjust="spacingAndGlyphs">0</text>
<line x1="258.90" y1="382.40" x2="258.90" y2="385.60" stroke="#1a1a1a" stroke-width="1.1"/>
<text x="254.70" y="396.10" font-size="9.1" fill="#222" stroke="#222" stroke-width="0" text-anchor="start" textLength="8.40" lengthAdjust="spacingAndGlyphs">12</text>
<line x1="293.10" y1="382.40" x2="293.10" y2="385.60" stroke="#1a1a1a" stroke-width="1.1"/>
<text x="288.90" y="396.10" font-size="9.1" fill="#222" stroke="#222" stroke-width="0" text-anchor="start" textLength="8.40" lengthAdjust="spacingAndGlyphs">24</text>
<line x1="327.70" y1="382.40" x2="327.70" y2="385.60" stroke="#1a1a1a" stroke-width="1.1"/>
<text x="323.50" y="396.10" font-size="9.1" fill="#222" stroke="#222" stroke-width="0" text-anchor="start" textLength="8.40" lengthAdjust="spacingAndGlyphs">36</text>
<text x="198.40" y="375.70" font-size="10.6" fill="#222" stroke="#222" stroke-width="0.12" text-anchor="start" textLength="63.60" lengthAdjust="spacingAndGlyphs" transform="rotate(-90 198.40 375.70)">% of ongoing BCA</text>
<text x="271.30" y="309.10" font-size="8.4" fill="#222" stroke="#222" stroke-width="0" text-anchor="start" textLength="20.70" lengthAdjust="spacingAndGlyphs">P=NS</text>
<text x="268.30" y="409.80" font-size="10.8" fill="#222" stroke="#222" stroke-width="0.12" text-anchor="start" textLength="26.70" lengthAdjust="spacingAndGlyphs">Months</text>
<polyline points="224.60,305.70 226.60,305.70 226.60,313.10 228.10,313.10 228.10,332.20 229.80,332.20 229.80,348.20 233.10,348.20 233.10,352.10 236.50,352.10 236.50,356.10 240.00,356.10 240.00,361.30 280.00,361.30 280.00,366.50 304.40,366.50 304.40,371.40 311.50,371.40 311.50,377.20 333.20,377.20 333.20,377.20" fill="none" stroke="#2f5190" stroke-width="1.25" stroke-linejoin="miter"/>
<line x1="333.20" y1="375.00" x2="333.20" y2="377.70" stroke="#2f5190" stroke-width="1.0"/>
<line x1="241.50" y1="359.10" x2="241.50" y2="361.80" stroke="#2f5190" stroke-width="1.0"/>
<polyline points="226.60,305.70 228.40,305.70 228.40,312.50 229.00,312.50 229.00,322.10 231.00,322.10 231.00,331.30 235.50,331.30 235.50,338.20 236.10,338.20 236.10,347.30 241.70,347.30 241.70,356.10 242.90,356.10 242.90,364.80 253.30,364.80 253.30,373.80 327.50,373.80 327.50,373.80" fill="none" stroke="#a8103a" stroke-width="1.25" stroke-linejoin="miter"/>
<line x1="327.50" y1="371.60" x2="327.50" y2="374.30" stroke="#a8103a" stroke-width="1.0"/>
<text x="354.80" y="294.90" font-size="12.2" font-weight="bold" fill="#111" stroke="#111" stroke-width="0" text-anchor="start">I</text>
<line x1="398.40" y1="304.30" x2="398.40" y2="383.00" stroke="#1a1a1a" stroke-width="1.3"/>
<line x1="395.40" y1="307.20" x2="398.40" y2="307.20" stroke="#1a1a1a" stroke-width="1.1"/>
<text x="378.70" y="310.40" font-size="9.1" fill="#222" stroke="#222" stroke-width="0" text-anchor="start" textLength="13.50" lengthAdjust="spacingAndGlyphs">100</text>
<line x1="395.40" y1="344.80" x2="398.40" y2="344.80" stroke="#1a1a1a" stroke-width="1.1"/>
<text x="383.20" y="348.00" font-size="9.1" fill="#222" stroke="#222" stroke-width="0" text-anchor="start" textLength="9.00" lengthAdjust="spacingAndGlyphs">50</text>
<line x1="395.40" y1="381.80" x2="398.40" y2="381.80" stroke="#1a1a1a" stroke-width="1.1"/>
<text x="387.70" y="385.00" font-size="9.1" fill="#222" stroke="#222" stroke-width="0" text-anchor="start" textLength="4.50" lengthAdjust="spacingAndGlyphs">0</text>
<line x1="397.40" y1="382.40" x2="509.90" y2="382.40" stroke="#1a1a1a" stroke-width="1.3"/>
<line x1="397.90" y1="382.40" x2="397.90" y2="385.60" stroke="#1a1a1a" stroke-width="1.1"/>
<text x="395.80" y="396.10" font-size="9.1" fill="#222" stroke="#222" stroke-width="0" text-anchor="start" textLength="4.20" lengthAdjust="spacingAndGlyphs">0</text>
<line x1="431.80" y1="382.40" x2="431.80" y2="385.60" stroke="#1a1a1a" stroke-width="1.1"/>
<text x="427.60" y="396.10" font-size="9.1" fill="#222" stroke="#222" stroke-width="0" text-anchor="start" textLength="8.40" lengthAdjust="spacingAndGlyphs">12</text>
<line x1="465.90" y1="382.40" x2="465.90" y2="385.60" stroke="#1a1a1a" stroke-width="1.1"/>
<text x="461.70" y="396.10" font-size="9.1" fill="#222" stroke="#222" stroke-width="0" text-anchor="start" textLength="8.40" lengthAdjust="spacingAndGlyphs">24</text>
<line x1="499.50" y1="382.40" x2="499.50" y2="385.60" stroke="#1a1a1a" stroke-width="1.1"/>
<text x="495.30" y="396.10" font-size="9.1" fill="#222" stroke="#222" stroke-width="0" text-anchor="start" textLength="8.40" lengthAdjust="spacingAndGlyphs">36</text>
<text x="372.20" y="376.20" font-size="10.6" fill="#222" stroke="#222" stroke-width="0.12" text-anchor="start" textLength="62.00" lengthAdjust="spacingAndGlyphs" transform="rotate(-90 372.20 376.20)">% of ongoing BCA</text>
<text x="444.80" y="309.10" font-size="8.4" fill="#222" stroke="#222" stroke-width="0" text-anchor="start" textLength="19.80" lengthAdjust="spacingAndGlyphs">P=NS</text>
<text x="440.90" y="409.80" font-size="10.8" fill="#222" stroke="#222" stroke-width="0.12" text-anchor="start" textLength="26.70" lengthAdjust="spacingAndGlyphs">Months</text>
<polyline points="398.60,306.90 400.20,306.90 400.20,313.70 401.80,313.70 401.80,331.60 403.40,331.60 403.40,345.70 410.00,345.70 410.00,350.30 413.50,350.30 413.50,354.70 414.50,354.70 414.50,359.50 426.70,359.50 426.70,365.10 483.30,365.10 483.30,371.10 505.50,371.10 505.50,371.10" fill="none" stroke="#a8103a" stroke-width="1.25" stroke-linejoin="miter"/>
<line x1="419.50" y1="357.30" x2="419.50" y2="360.00" stroke="#a8103a" stroke-width="1.0"/>
<line x1="499.50" y1="368.90" x2="499.50" y2="371.60" stroke="#a8103a" stroke-width="1.0"/>
<line x1="505.50" y1="368.90" x2="505.50" y2="371.60" stroke="#a8103a" stroke-width="1.0"/>
<polyline points="398.60,306.90 401.00,306.90 401.00,313.00 402.20,313.00 402.20,326.30 403.40,326.30 403.40,344.60 409.30,344.60 409.30,370.20 416.50,370.20 416.50,382.30" fill="none" stroke="#2f5190" stroke-width="1.25" stroke-linejoin="miter"/>
<polyline points="398.60,306.90 402.40,306.90 402.40,327.70 406.50,327.70 406.50,341.40 452.80,341.40 452.80,362.20 476.50,362.20 476.50,382.30" fill="none" stroke="#58a83a" stroke-width="1.25" stroke-linejoin="miter"/>
<line x1="409.30" y1="339.20" x2="409.30" y2="341.90" stroke="#58a83a" stroke-width="1.0"/>
</svg>
</body></html>
